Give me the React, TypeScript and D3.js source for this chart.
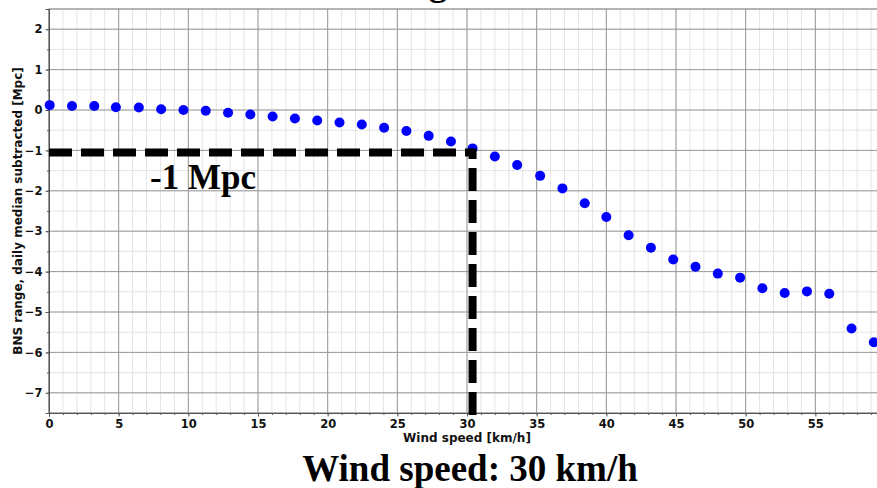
import React, { useEffect, useRef } from 'react';
import * as d3 from 'd3';

// wind speed bins [km/h]
const windSpeed = [
  0.05, 1.65, 3.25, 4.8, 6.45, 8.05, 9.65, 11.25, 12.85, 14.45,
  16.05, 17.65, 19.25, 20.85, 22.45, 24.05, 25.65, 27.25, 28.85, 30.4,
  32.0, 33.6, 35.25, 36.85, 38.45, 40.0, 41.6, 43.2, 44.8, 46.4,
  48.0, 49.6, 51.2, 52.8, 54.4, 56.0, 57.6, 59.2,
];
// BNS range, daily median subtracted [Mpc]
const rangeDelta = [
  0.12, 0.1, 0.1, 0.07, 0.06, 0.02, 0.0, -0.02, -0.07, -0.11,
  -0.16, -0.21, -0.26, -0.31, -0.36, -0.44, -0.52, -0.64, -0.78, -0.95,
  -1.15, -1.36, -1.63, -1.94, -2.31, -2.65, -3.1, -3.41, -3.7, -3.88,
  -4.05, -4.15, -4.41, -4.53, -4.49, -4.55, -5.41, -5.75,
];
const xTicks = [0, 5, 10, 15, 20, 25, 30, 35, 40, 45, 50, 55];
const yTicks = [-7, -6, -5, -4, -3, -2, -1, 0, 1, 2];
// threshold marker
const thresholdSpeed = 30.4;
const thresholdRange = -1.05;

export default function App() {
  const ref = useRef<SVGSVGElement>(null);

  useEffect(() => {
    const svg = d3.select(ref.current);
    svg.selectAll('*').remove();

    const left = 49, right = 885, top = 9, bottom = 413;
    const x = d3.scaleLinear().domain([0, 60]).range([left, right]);
    const y = d3.scaleLinear().domain([-7.5, 2.5]).range([bottom, top]);

    const minorX = d3.range(0, 61, 1);
    const minorY = d3.range(-7.5, 2.51, 0.5);

    // minor grid
    const grid = svg.append('g');
    grid.selectAll('.mx').data(minorX).enter().append('line')
      .attr('x1', d => x(d)).attr('x2', d => x(d))
      .attr('y1', top).attr('y2', bottom)
      .attr('stroke', '#e4e4e4').attr('stroke-width', 1);
    grid.selectAll('.my').data(minorY).enter().append('line')
      .attr('x1', left).attr('x2', right)
      .attr('y1', d => y(d)).attr('y2', d => y(d))
      .attr('stroke', '#e4e4e4').attr('stroke-width', 1);

    // major grid
    grid.selectAll('.Mx').data(xTicks).enter().append('line')
      .attr('x1', d => x(d)).attr('x2', d => x(d))
      .attr('y1', top).attr('y2', bottom)
      .attr('stroke', '#999').attr('stroke-width', 1);
    grid.selectAll('.My').data(yTicks).enter().append('line')
      .attr('x1', left).attr('x2', right)
      .attr('y1', d => y(d)).attr('y2', d => y(d))
      .attr('stroke', '#999').attr('stroke-width', 1);

    // frame
    svg.append('rect')
      .attr('x', left).attr('y', top)
      .attr('width', right - left).attr('height', bottom - top)
      .attr('fill', 'none').attr('stroke', '#777').attr('stroke-width', 1);

    // axes
    const font = '"DejaVu Sans", sans-serif';
    const xAxis = svg.append('g')
      .attr('transform', `translate(0,${bottom})`)
      .call(d3.axisBottom(x).tickValues(xTicks).tickSize(3.5).tickPadding(3).tickFormat(d3.format('d')));
    svg.append('g')
      .attr('transform', `translate(0,${bottom})`)
      .call(d3.axisBottom(x).tickValues(minorX).tickSize(2).tickFormat(() => ''))
      .call(g => g.select('.domain').remove());
    const yAxis = svg.append('g')
      .attr('transform', `translate(${left},0)`)
      .call(d3.axisLeft(y).tickValues(yTicks).tickSize(3.5).tickPadding(3).tickFormat(d => d3.format('d')(d as number).replace('-', '\u2212')));
    svg.append('g')
      .attr('transform', `translate(${left},0)`)
      .call(d3.axisLeft(y).tickValues(minorY).tickSize(2).tickFormat(() => ''))
      .call(g => g.select('.domain').remove());

    [xAxis, yAxis].forEach(a => {
      a.select('.domain').attr('stroke', '#555');
      a.selectAll('text')
        .attr('font-family', font).attr('font-weight', 'bold')
        .attr('font-size', 11.5).attr('fill', '#111');
    });
    svg.selectAll('.tick line').attr('stroke', '#555');

    // axis titles
    svg.append('text')
      .attr('x', (left + right) / 2).attr('y', 441.5)
      .attr('text-anchor', 'middle')
      .attr('font-family', font).attr('font-weight', 'bold').attr('font-size', 12)
      .attr('fill', '#111')
      .text('Wind speed [km/h]');
    svg.append('text')
      .attr('transform', `translate(21.5,${(top + bottom) / 2}) rotate(-90)`)
      .attr('text-anchor', 'middle')
      .attr('font-family', font).attr('font-weight', 'bold').attr('font-size', 12)
      .attr('fill', '#111')
      .text('BNS range, daily median subtracted [Mpc]');

    // data points
    svg.append('g')
      .selectAll('circle')
      .data(windSpeed)
      .enter()
        .append('circle')
        .attr('cx', d => x(d))
        .attr('cy', (d, i) => y(rangeDelta[i]))
        .attr('r', 5)
        .attr('fill', '#0000ff');

    // threshold dashed lines
    svg.append('line')
      .attr('x1', x(0)).attr('x2', x(thresholdSpeed))
      .attr('y1', y(thresholdRange)).attr('y2', y(thresholdRange))
      .attr('stroke', '#000').attr('stroke-width', 8)
      .attr('stroke-dasharray', '23 9');
    svg.append('line')
      .attr('x1', x(thresholdSpeed)).attr('x2', x(thresholdSpeed))
      .attr('y1', bottom + 2).attr('y2', y(thresholdRange) - 4)
      .attr('stroke', '#000').attr('stroke-width', 8)
      .attr('stroke-dasharray', '23 9');

    const serif = '"Liberation Serif", "Times New Roman", serif';
    svg.append('text')
      .attr('x', 150).attr('y', 189)
      .attr('font-family', serif).attr('font-weight', 'bold').attr('font-size', 35)
      .text('-1 Mpc');

    // title (cut off at the top of the image)
    svg.append('text')
      .attr('x', 438).attr('y', -5)
      .attr('text-anchor', 'middle')
      .attr('font-family', serif).attr('font-weight', 'bold').attr('font-size', 37)
      .text('g');

    svg.append('text')
      .attr('x', 470).attr('y', 481)
      .attr('text-anchor', 'middle')
      .attr('font-family', serif).attr('font-weight', 'bold').attr('font-size', 37)
      .text('Wind speed: 30 km/h');
  }, []);

  return (
    <svg ref={ref} width={877} height={488}
      style={{ position: 'absolute', left: 0, top: 0, background: '#fff' }} />
  );
}
